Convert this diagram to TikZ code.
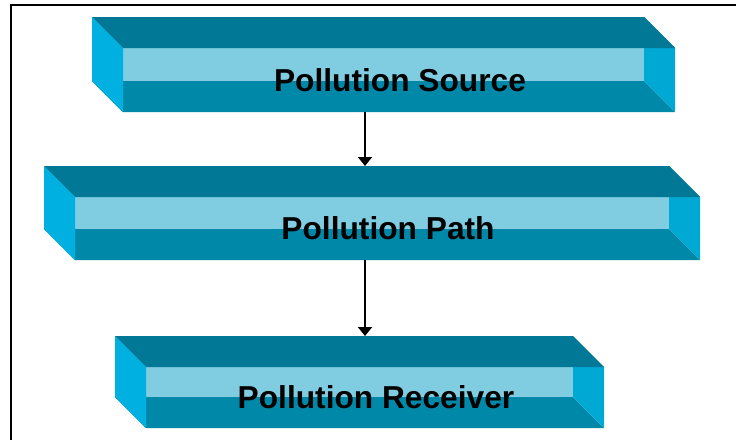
\documentclass[tikz,border=0pt]{standalone}
\usepackage{fontspec}
\setmainfont{Liberation Sans}
\usetikzlibrary{arrows.meta}

\definecolor{backband}{RGB}{128,204,224}
\definecolor{bottomband}{RGB}{0,136,168}
\definecolor{topband}{RGB}{0,120,150}
\definecolor{leftband}{RGB}{0,176,224}
\definecolor{rightband}{RGB}{0,168,212}

\tikzset{
  backface/.style={fill=backband},
  bottomface/.style={fill=bottomband},
  topface/.style={fill=topband},
  leftface/.style={fill=leftband},
  rightface/.style={fill=rightband},
  frontface/.style={inner sep=0pt,font=\bfseries\fontsize{31.7}{36}\selectfont},
  flow/.style={line width=2pt,-{Triangle[width=14pt,length=9pt]}}
}

\begin{document}
\begin{tikzpicture}[x=1pt,y=-1pt]
\useasboundingbox (0,0) rectangle (736,440);
\draw [line width=2pt] (736,5) -- (11,5) -- (11,440);

% source bar
\fill [backface] (92,17) rectangle (644,81);
\fill [bottomface] (92,81) -- (644,81) -- (675,112) -- (123,112) -- cycle;
\fill [rightface] (644,17) -- (675,48) -- (675,112) -- (644,81) -- cycle;
\fill [topface] (92,17) -- (644,17) -- (675,48) -- (123,48) -- cycle;
\fill [leftface] (92,17) -- (123,48) -- (123,112) -- (92,81) -- cycle;
\node [frontface,minimum width=552pt,minimum height=64pt] (src) at (400,80) {Pollution Source};

% path bar
\fill [backface] (44,166) rectangle (669,229);
\fill [bottomface] (44,229) -- (669,229) -- (700,260) -- (75,260) -- cycle;
\fill [rightface] (669,166) -- (700,197) -- (700,260) -- (669,229) -- cycle;
\fill [topface] (44,166) -- (669,166) -- (700,197) -- (75,197) -- cycle;
\fill [leftface] (44,166) -- (75,197) -- (75,260) -- (44,229) -- cycle;
\node [frontface,minimum width=625pt,minimum height=63pt] (pth) at (388,228.5) {Pollution Path};
\coordinate (pth-back) at (356,166);

% receiver bar
\fill [backface] (115,336) rectangle (573,397);
\fill [bottomface] (115,397) -- (573,397) -- (604,428) -- (146,428) -- cycle;
\fill [rightface] (573,336) -- (604,367) -- (604,428) -- (573,397) -- cycle;
\fill [topface] (115,336) -- (573,336) -- (604,367) -- (146,367) -- cycle;
\fill [leftface] (115,336) -- (146,367) -- (146,428) -- (115,397) -- cycle;
\node [frontface,minimum width=458pt,minimum height=61pt] (rcv) at (376,397.5) {Pollution Receiver};
\coordinate (rcv-back) at (344,336);

\coordinate (col) at (365,0);
\draw [flow] (src.south -| col) -- (pth-back -| col);
\draw [flow] (pth.south -| col) -- (rcv-back -| col);
\end{tikzpicture}
\end{document}
